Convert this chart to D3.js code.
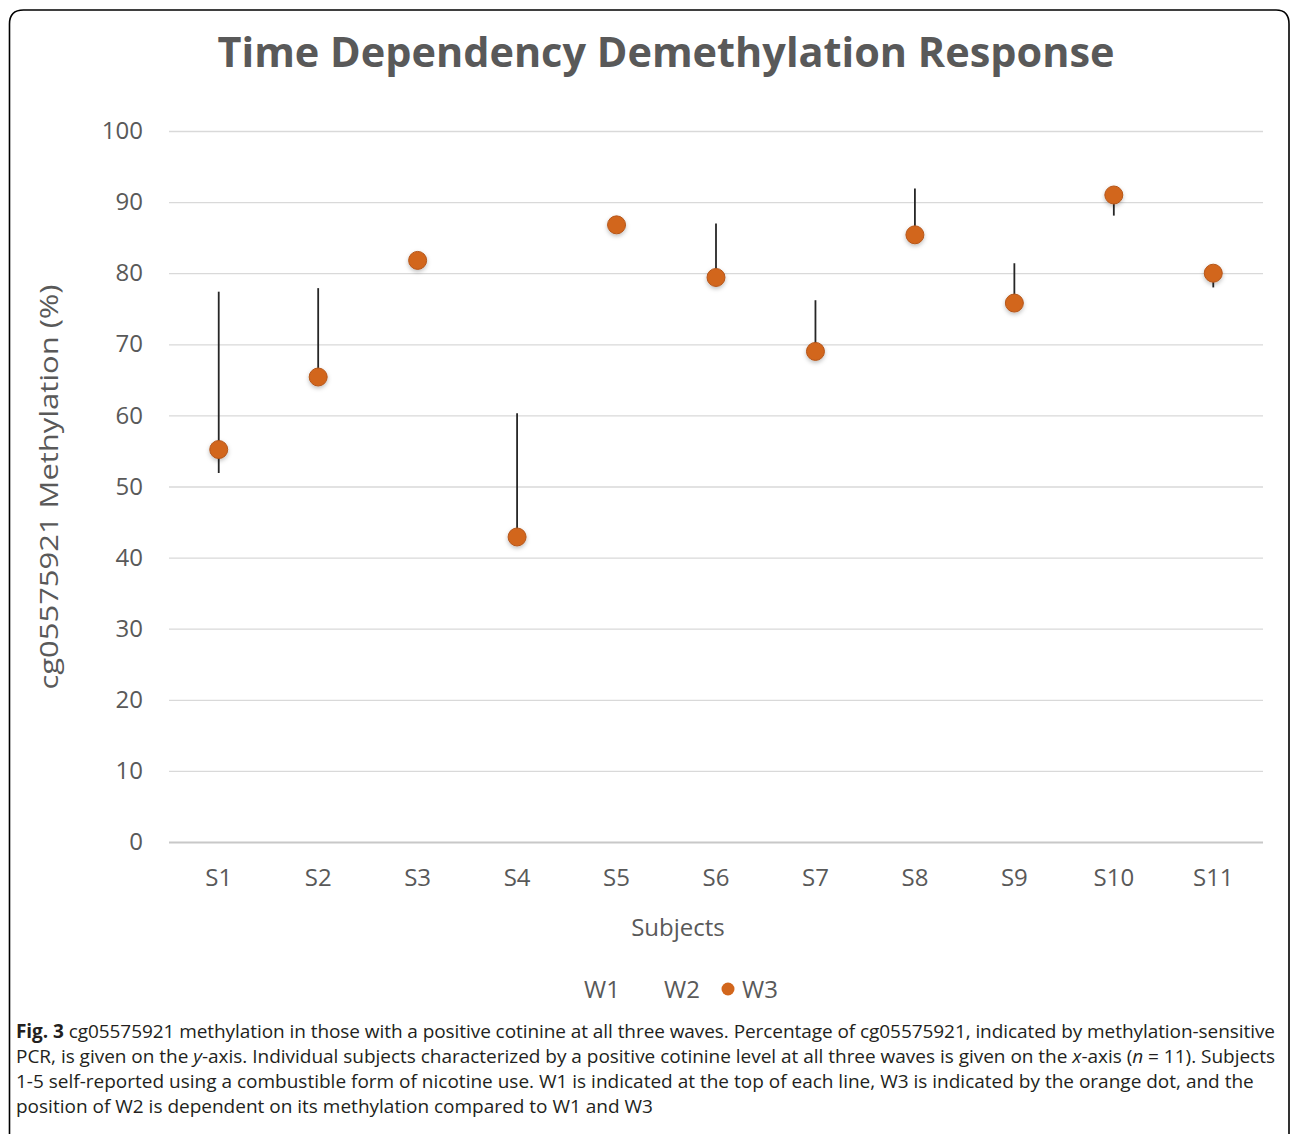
<!DOCTYPE html>
<html>
<head>
<meta charset="utf-8">
<script src="https://cdn.jsdelivr.net/npm/d3@7"></script>
<style>
  body { margin: 0; background: #fff; }
</style>
</head>
<body>
<div id="chart"></div>
<script>
(function () {

  // data
  var subjects = ["S1", "S2", "S3", "S4", "S5", "S6", "S7", "S8", "S9", "S10", "S11"];
  var w1 = [77.4, 77.9, 81.8, 60.3, 86.8, 87.0, 76.2, 91.9, 81.4, 91.0, 80.0];
  var w2 = [51.9, 65.4, 81.8, 42.9, 86.8, 79.4, 69.0, 85.4, 75.8, 88.1, 78.0];
  var w3 = [55.2, 65.4, 81.8, 42.9, 86.8, 79.4, 69.0, 85.4, 75.8, 91.0, 80.0];
  var yTicks = [0, 10, 20, 30, 40, 50, 60, 70, 80, 90, 100];

  var w = 1290, h = 1134;
  var grey = "#595959";
  var orange = "#d2661c";
  var font = "'Open Sans', 'Noto Sans', sans-serif";

  var data = subjects.map(function (s, i) {
    return { name: s, w1: w1[i], w2: w2[i], w3: w3[i] };
  });

  var svg = d3.select("#chart")
    .append("svg")
    .attr("width", w)
    .attr("height", h);

  var f = svg.append("defs").append("filter")
    .attr("id", "shadow")
    .attr("x", "-50%").attr("y", "-50%")
    .attr("width", "200%").attr("height", "200%");
  f.append("feDropShadow")
    .attr("dx", 0).attr("dy", 2)
    .attr("stdDeviation", 2)
    .attr("flood-color", "#000")
    .attr("flood-opacity", 0.25);

  // frame, open at the bottom
  svg.append("path")
    .attr("d", "M9.5 1134 L9.5 24 Q9.5 10 23.5 10 L1276 10 Q1289 10 1289 24 L1289 1134")
    .style("fill", "none")
    .style("stroke", "#000")
    .style("stroke-width", 1.6);

  var xScale = d3.scaleBand()
    .domain(subjects)
    .range([169, 1263]);

  var yScale = d3.scaleLinear()
    .domain([0, 100])
    .range([842, 131]);

  // gridlines
  svg.append("g")
    .selectAll("line")
    .data(yTicks)
    .enter()
    .append("line")
    .attr("x1", 169)
    .attr("x2", 1263)
    .attr("y1", function (d) { return yScale(d) + 0.5; })
    .attr("y2", function (d) { return yScale(d) + 0.5; })
    .style("stroke", function (d) { return d === 0 ? "#c8c8c8" : "#d9d9d9"; })
    .style("stroke-width", function (d) { return d === 0 ? 2 : 1.3; });

  var yAxis = d3.axisLeft(yScale)
    .tickValues(yTicks)
    .tickSize(0)
    .tickPadding(0);

  var gy = svg.append("g")
    .attr("transform", "translate(143,0)")
    .call(yAxis);
  gy.select(".domain").remove();
  gy.selectAll("text")
    .style("font-family", font)
    .style("font-size", "24px")
    .style("fill", grey);

  var xAxis = d3.axisBottom(xScale)
    .tickSize(0)
    .tickPadding(0);

  var gx = svg.append("g")
    .attr("transform", "translate(0,869)")
    .call(xAxis);
  gx.select(".domain").remove();
  gx.selectAll("text")
    .style("font-family", font)
    .style("font-size", "24px")
    .style("fill", grey);

  // high-low lines between W2 and W1
  svg.append("g")
    .selectAll("line")
    .data(data)
    .enter()
    .append("line")
    .attr("x1", function (d) { return xScale(d.name) + xScale.bandwidth() / 2; })
    .attr("x2", function (d) { return xScale(d.name) + xScale.bandwidth() / 2; })
    .attr("y1", function (d) { return yScale(Math.max(d.w1, d.w2)); })
    .attr("y2", function (d) { return yScale(Math.min(d.w1, d.w2)); })
    .style("stroke", "#262626")
    .style("stroke-width", 1.8);

  // W3 dots
  svg.append("g")
    .selectAll("circle")
    .data(data)
    .enter()
    .append("circle")
    .attr("cx", function (d) { return xScale(d.name) + xScale.bandwidth() / 2; })
    .attr("cy", function (d) { return yScale(d.w3); })
    .attr("r", 9)
    .attr("filter", "url(#shadow)")
    .style("fill", orange)
    .style("stroke", "#b5561a")
    .style("stroke-width", 1);

  // title
  svg.append("text")
    .attr("x", 666)
    .attr("y", 67)
    .attr("text-anchor", "middle")
    .attr("textLength", 897)
    .attr("lengthAdjust", "spacingAndGlyphs")
    .text("Time Dependency Demethylation Response")
    .style("font-family", font)
    .style("font-weight", "bold")
    .style("font-size", "41px")
    .style("fill", grey);

  // axis titles
  svg.append("text")
    .attr("x", 678)
    .attr("y", 936)
    .attr("text-anchor", "middle")
    .text("Subjects")
    .style("font-family", font)
    .style("font-size", "24px")
    .style("fill", grey);

  svg.append("text")
    .attr("transform", "translate(58,487) rotate(-90)")
    .attr("text-anchor", "middle")
    .attr("textLength", 405)
    .attr("lengthAdjust", "spacingAndGlyphs")
    .text("cg05575921 Methylation (%)")
    .style("font-family", font)
    .style("font-size", "25px")
    .style("fill", grey);

  // legend
  var legend = svg.append("g").attr("transform", "translate(0,998)");
  legend.append("text").attr("x", 584).text("W1")
    .style("font-family", font).style("font-size", "24px").style("fill", grey);
  legend.append("text").attr("x", 664).text("W2")
    .style("font-family", font).style("font-size", "24px").style("fill", grey);
  legend.append("circle").attr("cx", 728).attr("cy", -9).attr("r", 6.5)
    .style("fill", orange);
  legend.append("text").attr("x", 742).text("W3")
    .style("font-family", font).style("font-size", "24px").style("fill", grey);

  // caption, one text per printed line
  var capLines = [
    [["b", "Fig. 3"], ["", " cg05575921 methylation in those with a positive cotinine at all three waves. Percentage of cg05575921, indicated by methylation-sensitive"]],
    [["", "PCR, is given on the "], ["i", "y"], ["", "-axis. Individual subjects characterized by a positive cotinine level at all three waves is given on the "], ["i", "x"], ["", "-axis ("], ["i", "n"], ["", " = 11). Subjects"]],
    [["", "1-5 self-reported using a combustible form of nicotine use. W1 is indicated at the top of each line, W3 is indicated by the orange dot, and the"]],
    [["", "position of W2 is dependent on its methylation compared to W1 and W3"]]
  ];
  var capWidths = [1259, 1259, null, null];

  capLines.forEach(function (parts, i) {
    var t = svg.append("text")
      .attr("x", 16)
      .attr("y", 1038 + i * 25)
      .style("font-family", font)
      .style("font-size", "19px")
      .style("fill", "#231f20");
    if (capWidths[i]) {
      t.attr("textLength", capWidths[i]).attr("lengthAdjust", "spacing");
    }
    parts.forEach(function (p) {
      var s = t.append("tspan").text(p[1]);
      if (p[0] === "b") s.style("font-weight", "bold");
      if (p[0] === "i") s.style("font-style", "italic");
    });
  });

})()
</script>
</body>
</html>
